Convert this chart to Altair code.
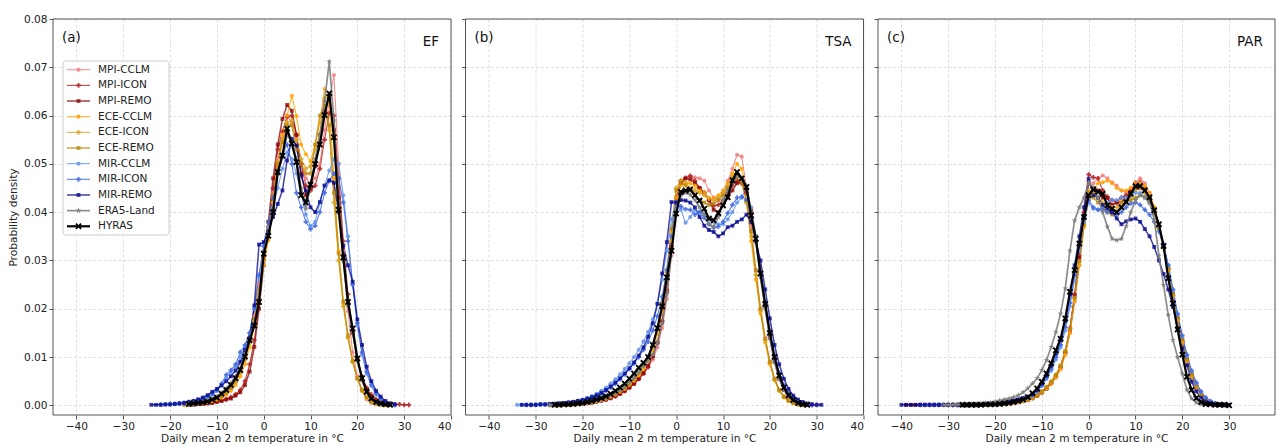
import altair as alt
import pandas as pd

# ---------------- series names & styles ----------------
SERIES = ["MPI-CCLM", "MPI-ICON", "MPI-REMO", "ECE-CCLM", "ECE-ICON", "ECE-REMO",
          "MIR-CCLM", "MIR-ICON", "MIR-REMO", "ERA5-Land", "HYRAS"]
COLORS = ["#f08080", "#b22222", "#8b0000", "#ffa500", "#daa520", "#b8860b",
          "#6495ed", "#4169e1", "#00008b", "#808080", "#000000"]
STAR = "M0,-1L0.24,-0.33L0.95,-0.31L0.38,0.12L0.59,0.81L0,0.4L-0.59,0.81L-0.38,0.12L-0.95,-0.31L-0.24,-0.33Z"
XMARK = "M-1,-0.6L-0.6,-1L0,-0.4L0.6,-1L1,-0.6L0.4,0L1,0.6L0.6,1L0,0.4L-0.6,1L-1,0.6L-0.4,0Z"
SHAPES = ["circle", "cross", "square"] * 3 + [STAR, XMARK]
LINE_W = [1.1, 1.1, 1.5] * 3 + [1.7, 2.2]
OPAC = [0.85, 0.85, 0.75] * 3 + [0.9, 1.0]
SIZES = [17, 22, 15] * 3 + [38, 42]

# ---------------- (a) EF : start temperature and densities (1 degC bins) ----------------
EF_MPI_CCLM_T0 = -17
EF_MPI_CCLM = [0.0002,0.0003,0.0004,0.0005,0.0006,0.0008,0.0011,0.0015,0.0021,0.0029,0.0040,0.0055,0.0075,0.0100,0.0135,0.0185,0.0250,
               0.0310,0.0370,0.0440,0.0510,0.0560,0.0600,0.0585,0.0552,0.0500,0.0470,0.0460,0.0470,0.0500,0.0570,0.0630,0.0684,0.0500,
               0.0320,0.0195,0.0110,0.0060,0.0030,0.0012,0.0005,0.0002,0.0001]
EF_MPI_ICON_T0 = -16
EF_MPI_ICON = [0.0002,0.0002,0.0003,0.0004,0.0005,0.0006,0.0008,0.0010,0.0013,0.0017,0.0023,0.0032,0.0050,0.0085,0.0135,0.0210,
               0.0300,0.0370,0.0450,0.0530,0.0567,0.0597,0.0600,0.0560,0.0500,0.0455,0.0445,0.0455,0.0490,0.0550,0.0605,0.0600,
               0.0470,0.0340,0.0230,0.0150,0.0095,0.0060,0.0036,0.0022,0.0013,0.0008,0.0005,0.0003,0.0002,0.0002,0.0001,0.0001]
EF_MPI_REMO_T0 = -16
EF_MPI_REMO = [0.0002,0.0002,0.0003,0.0003,0.0004,0.0005,0.0007,0.0009,0.0012,0.0014,0.0020,0.0027,0.0042,0.0070,0.0121,0.0200,
               0.0290,0.0380,0.0470,0.0540,0.0593,0.0622,0.0610,0.0560,0.0480,0.0435,0.0450,0.0495,0.0560,0.0610,0.0635,0.0570,
               0.0430,0.0310,0.0215,0.0150,0.0095,0.0058,0.0033,0.0018,0.0009,0.0004,0.0002,0.0001]
EF_ECE_CCLM_T0 = -17
EF_ECE_CCLM = [0.0002,0.0003,0.0003,0.0004,0.0005,0.0007,0.0009,0.0012,0.0016,0.0022,0.0030,0.0042,0.0060,0.0085,0.0120,0.0165,0.0225,
               0.0290,0.0342,0.0420,0.0500,0.0560,0.0600,0.0641,0.0599,0.0540,0.0520,0.0505,0.0540,0.0585,0.0655,0.0625,0.0470,
               0.0320,0.0210,0.0140,0.0090,0.0055,0.0030,0.0015,0.0007,0.0003,0.0002,0.0001]
EF_ECE_ICON_T0 = -17
EF_ECE_ICON = [0.0002,0.0003,0.0004,0.0005,0.0006,0.0008,0.0010,0.0013,0.0018,0.0025,0.0034,0.0048,0.0068,0.0095,0.0130,0.0175,0.0235,
               0.0300,0.0360,0.0430,0.0505,0.0550,0.0586,0.0590,0.0550,0.0510,0.0490,0.0495,0.0530,0.0560,0.0636,0.0570,0.0420,
               0.0300,0.0205,0.0140,0.0090,0.0055,0.0031,0.0016,0.0008,0.0004,0.0002,0.0001]
EF_ECE_REMO_T0 = -17
EF_ECE_REMO = [0.0002,0.0003,0.0004,0.0005,0.0006,0.0008,0.0011,0.0014,0.0019,0.0026,0.0036,0.0050,0.0070,0.0098,0.0135,0.0180,0.0240,
               0.0305,0.0365,0.0435,0.0500,0.0545,0.0580,0.0580,0.0530,0.0500,0.0480,0.0480,0.0540,0.0600,0.0620,0.0580,0.0440,
               0.0315,0.0215,0.0145,0.0092,0.0056,0.0032,0.0017,0.0008,0.0004,0.0002,0.0001]
EF_MIR_CCLM_T0 = -20
EF_MIR_CCLM = [0.0002,0.0003,0.0003,0.0004,0.0005,0.0007,0.0009,0.0012,0.0016,0.0022,0.0030,0.0042,0.0055,0.0068,0.0080,0.0100,0.0120,0.0150,0.0200,0.0265,
               0.0330,0.0370,0.0410,0.0450,0.0490,0.0524,0.0510,0.0480,0.0440,0.0395,0.0372,0.0380,0.0420,0.0455,0.0486,0.0510,0.0500,
               0.0435,0.0350,0.0250,0.0165,0.0105,0.0065,0.0040,0.0023,0.0013,0.0007,0.0003,0.0001]
EF_MIR_ICON_T0 = -22
EF_MIR_ICON = [0.0002,0.0002,0.0003,0.0003,0.0004,0.0005,0.0007,0.0009,0.0012,0.0015,0.0019,0.0024,0.0032,0.0045,0.0063,0.0073,0.0085,0.0110,0.0125,0.0150,0.0200,0.0270,
               0.0330,0.0380,0.0430,0.0480,0.0520,0.0540,0.0500,0.0440,0.0410,0.0380,0.0365,0.0372,0.0400,0.0440,0.0465,0.0480,0.0470,
               0.0420,0.0340,0.0250,0.0170,0.0110,0.0070,0.0043,0.0025,0.0014,0.0007,0.0003,0.0001]
EF_MIR_REMO_T0 = -24
EF_MIR_REMO = [0.0001,0.0001,0.0001,0.0002,0.0002,0.0003,0.0004,0.0005,0.0007,0.0009,0.0012,0.0016,0.0021,0.0028,0.0034,0.0041,0.0050,0.0060,0.0072,0.0090,0.0115,0.0140,0.0207,0.0333,
               0.0338,0.0360,0.0390,0.0417,0.0445,0.0507,0.0552,0.0538,0.0476,0.0445,0.0410,0.0400,0.0421,0.0455,0.0466,0.0461,0.0400,
               0.0331,0.0290,0.0256,0.0178,0.0125,0.0080,0.0050,0.0030,0.0018,0.0009,0.0004,0.0002]
EF_ERA5_T0 = -16
EF_ERA5 = [0.0003,0.0004,0.0005,0.0007,0.0009,0.0013,0.0018,0.0026,0.0035,0.0046,0.0060,0.0078,0.0105,0.0138,0.0170,0.0220,
           0.0320,0.0355,0.0405,0.0480,0.0515,0.0560,0.0545,0.0510,0.0450,0.0407,0.0455,0.0510,0.0560,0.0630,0.0712,0.0590,
           0.0420,0.0300,0.0205,0.0150,0.0092,0.0052,0.0026,0.0013,0.0006,0.0003,0.0002,0.0001]
EF_HYRAS_T0 = -16
EF_HYRAS = [0.0003,0.0004,0.0005,0.0006,0.0008,0.0012,0.0016,0.0024,0.0032,0.0042,0.0056,0.0073,0.0101,0.0135,0.0165,0.0214,
            0.0314,0.0351,0.0400,0.0483,0.0517,0.0573,0.0542,0.0504,0.0435,0.0420,0.0457,0.0500,0.0540,0.0601,0.0646,0.0555,
            0.0405,0.0306,0.0214,0.0159,0.0097,0.0056,0.0028,0.0014,0.0007,0.0004,0.0002,0.0001]

# ---------------- (b) TSA ----------------
TSA_MPI_CCLM_T0 = -27
TSA_MPI_CCLM = [0.0001,0.0001,0.0001,0.0002,0.0002,0.0003,0.0003,0.0004,0.0005,0.0006,0.0008,0.0010,0.0012,0.0015,0.0019,0.0024,0.0030,0.0037,0.0045,0.0055,0.0065,0.0078,0.0095,0.0120,0.0160,0.0220,0.0310,
                0.0420,0.0460,0.0470,0.0475,0.0472,0.0470,0.0465,0.0445,0.0430,0.0425,0.0440,0.0465,0.0490,0.0519,0.0515,0.0450,
                0.0370,0.0280,0.0200,0.0140,0.0090,0.0055,0.0032,0.0018,0.0010,0.0005,0.0003,0.0001]
TSA_MPI_ICON_T0 = -27
TSA_MPI_ICON = [0.0001,0.0001,0.0001,0.0002,0.0002,0.0003,0.0003,0.0004,0.0005,0.0006,0.0008,0.0010,0.0012,0.0015,0.0019,0.0024,0.0030,0.0037,0.0045,0.0055,0.0066,0.0080,0.0100,0.0130,0.0175,0.0240,0.0330,
                0.0430,0.0465,0.0471,0.0475,0.0465,0.0450,0.0440,0.0425,0.0413,0.0415,0.0425,0.0440,0.0455,0.0465,0.0460,0.0440,
                0.0400,0.0340,0.0280,0.0210,0.0150,0.0100,0.0065,0.0040,0.0024,0.0014,0.0008,0.0004,0.0002,0.0001,0.0001]
TSA_MPI_REMO_T0 = -26
TSA_MPI_REMO = [0.0001,0.0001,0.0002,0.0002,0.0003,0.0003,0.0004,0.0005,0.0006,0.0008,0.0010,0.0012,0.0015,0.0019,0.0024,0.0030,0.0037,0.0045,0.0055,0.0067,0.0082,0.0102,0.0130,0.0172,0.0235,0.0325,
                0.0420,0.0460,0.0470,0.0468,0.0460,0.0450,0.0440,0.0425,0.0405,0.0400,0.0415,0.0430,0.0445,0.0460,0.0462,0.0445,
                0.0405,0.0350,0.0280,0.0205,0.0140,0.0090,0.0055,0.0032,0.0018,0.0010,0.0005,0.0002,0.0001]
TSA_ECE_CCLM_T0 = -27
TSA_ECE_CCLM = [0.0001,0.0001,0.0001,0.0002,0.0002,0.0003,0.0004,0.0005,0.0006,0.0007,0.0009,0.0011,0.0014,0.0018,0.0022,0.0028,0.0034,0.0042,0.0051,0.0062,0.0075,0.0092,0.0115,0.0148,0.0195,0.0260,0.0340,
                0.0430,0.0455,0.0462,0.0460,0.0455,0.0445,0.0440,0.0430,0.0428,0.0435,0.0445,0.0460,0.0480,0.0500,0.0490,0.0420,
                0.0340,0.0260,0.0190,0.0130,0.0085,0.0052,0.0030,0.0017,0.0009,0.0005,0.0002,0.0001]
TSA_ECE_ICON_T0 = -27
TSA_ECE_ICON = [0.0001,0.0001,0.0002,0.0002,0.0003,0.0003,0.0004,0.0005,0.0006,0.0008,0.0010,0.0012,0.0015,0.0019,0.0024,0.0030,0.0036,0.0044,0.0054,0.0066,0.0080,0.0098,0.0122,0.0155,0.0205,0.0275,0.0360,
                0.0450,0.0466,0.0460,0.0450,0.0445,0.0440,0.0435,0.0428,0.0425,0.0430,0.0440,0.0455,0.0475,0.0480,0.0465,0.0420,
                0.0350,0.0270,0.0195,0.0135,0.0088,0.0054,0.0031,0.0017,0.0009,0.0005,0.0002,0.0001]
TSA_ECE_REMO_T0 = -27
TSA_ECE_REMO = [0.0001,0.0001,0.0002,0.0002,0.0003,0.0003,0.0004,0.0005,0.0006,0.0008,0.0010,0.0012,0.0015,0.0019,0.0024,0.0030,0.0037,0.0045,0.0055,0.0067,0.0082,0.0100,0.0125,0.0160,0.0210,0.0280,0.0365,
                0.0445,0.0460,0.0455,0.0445,0.0435,0.0425,0.0420,0.0415,0.0418,0.0425,0.0435,0.0450,0.0465,0.0470,0.0460,0.0425,
                0.0360,0.0280,0.0200,0.0138,0.0090,0.0055,0.0032,0.0018,0.0010,0.0005,0.0002,0.0001]
TSA_MIR_CCLM_T0 = -34
TSA_MIR_CCLM = [0.0001,0.0001,0.0001,0.0001,0.0002,0.0002,0.0002,0.0003,0.0003,0.0004,0.0005,0.0006,0.0008,0.0010,0.0012,0.0015,0.0019,0.0024,0.0030,0.0037,0.0045,0.0054,0.0064,0.0075,0.0087,0.0100,0.0115,0.0132,0.0152,0.0178,0.0212,0.0260,0.0320,0.0385,
                0.0420,0.0405,0.0378,0.0390,0.0405,0.0400,0.0395,0.0385,0.0380,0.0375,0.0375,0.0385,0.0400,0.0420,0.0430,0.0452,
                0.0410,0.0350,0.0280,0.0210,0.0150,0.0100,0.0065,0.0040,0.0024,0.0014,0.0008,0.0004,0.0002,0.0001,0.0001]
TSA_MIR_ICON_T0 = -32
TSA_MIR_ICON = [0.0001,0.0001,0.0001,0.0002,0.0002,0.0002,0.0003,0.0003,0.0004,0.0005,0.0006,0.0008,0.0010,0.0012,0.0015,0.0019,0.0024,0.0030,0.0037,0.0045,0.0054,0.0064,0.0075,0.0087,0.0100,0.0115,0.0132,0.0155,0.0185,0.0225,0.0280,0.0350,
                0.0420,0.0412,0.0406,0.0405,0.0395,0.0400,0.0388,0.0375,0.0368,0.0370,0.0380,0.0398,0.0415,0.0430,0.0432,0.0425,
                0.0390,0.0340,0.0280,0.0215,0.0155,0.0105,0.0068,0.0042,0.0025,0.0015,0.0008,0.0004,0.0002,0.0001]
TSA_MIR_REMO_T0 = -33
TSA_MIR_REMO = [0.0001,0.0001,0.0001,0.0001,0.0002,0.0002,0.0003,0.0003,0.0004,0.0005,0.0006,0.0007,0.0009,0.0011,0.0014,0.0017,0.0021,0.0026,0.0032,0.0039,0.0047,0.0056,0.0066,0.0077,0.0089,0.0103,0.0120,0.0142,0.0170,0.0210,0.0273,0.0338,0.0421,
                0.0420,0.0425,0.0424,0.0420,0.0410,0.0390,0.0372,0.0363,0.0359,0.0350,0.0356,0.0369,0.0372,0.0380,0.0385,0.0395,
                0.0380,0.0340,0.0300,0.0240,0.0180,0.0125,0.0085,0.0055,0.0034,0.0020,0.0012,0.0007,0.0004,0.0002,0.0001,0.0001]
TSA_ERA5_T0 = -27
TSA_ERA5 = [0.0001,0.0001,0.0001,0.0002,0.0002,0.0003,0.0004,0.0005,0.0006,0.0008,0.0010,0.0013,0.0016,0.0020,0.0025,0.0031,0.0038,0.0047,0.0057,0.0069,0.0082,0.0092,0.0105,0.0130,0.0170,0.0230,0.0320,
            0.0405,0.0435,0.0440,0.0436,0.0425,0.0410,0.0395,0.0375,0.0370,0.0390,0.0425,0.0445,0.0460,0.0475,0.0470,0.0455,
            0.0400,0.0340,0.0265,0.0200,0.0140,0.0090,0.0055,0.0032,0.0018,0.0010,0.0005,0.0002,0.0001]
TSA_HYRAS_T0 = -26
TSA_HYRAS = [0.0001,0.0001,0.0002,0.0002,0.0003,0.0004,0.0005,0.0007,0.0009,0.0012,0.0015,0.0019,0.0024,0.0030,0.0037,0.0045,0.0055,0.0066,0.0078,0.0088,
             0.0100,0.0125,0.0160,0.0205,0.0265,0.0320,
             0.0397,0.0442,0.0445,0.0447,0.0435,0.0424,0.0407,0.0387,0.0383,0.0398,0.0414,0.0431,0.0466,0.0483,0.0470,0.0452,
             0.0393,0.0345,0.0273,0.0210,0.0150,0.0100,0.0062,0.0037,0.0021,0.0011,0.0005,0.0002,0.0001]

# ---------------- (c) PAR ----------------
PAR_MPI_CCLM_T0 = -30
PAR_MPI_CCLM = [0.0001,0.0001,0.0001,0.0001,0.0001,0.0001,0.0001,0.0002,0.0002,0.0002,0.0003,0.0003,0.0004,0.0005,0.0006,0.0007,0.0009,0.0011,0.0015,0.0020,0.0027,0.0035,0.0045,0.0058,0.0075,0.0105,0.0150,0.0215,0.0290,0.0370,
                0.0430,0.0460,0.0470,0.0476,0.0470,0.0462,0.0455,0.0445,0.0440,0.0450,0.0462,0.0470,0.0460,
                0.0440,0.0410,0.0375,0.0330,0.0280,0.0225,0.0175,0.0130,0.0090,0.0060,0.0038,0.0022,0.0012,0.0006,0.0003,0.0001,0.0001]
PAR_MPI_ICON_T0 = -30
PAR_MPI_ICON = [0.0001,0.0001,0.0001,0.0001,0.0001,0.0001,0.0001,0.0002,0.0002,0.0002,0.0003,0.0003,0.0004,0.0005,0.0006,0.0007,0.0009,0.0011,0.0015,0.0020,0.0027,0.0035,0.0046,0.0060,0.0080,0.0110,0.0160,0.0230,0.0310,0.0400,
                0.0478,0.0472,0.0470,0.0445,0.0432,0.0425,0.0420,0.0430,0.0435,0.0442,0.0460,0.0462,0.0450,
                0.0430,0.0405,0.0372,0.0330,0.0282,0.0228,0.0178,0.0133,0.0093,0.0062,0.0039,0.0023,0.0013,0.0007,0.0003,0.0002,0.0001]
PAR_MPI_REMO_T0 = -39
PAR_MPI_REMO = [0.0001,0.0001,0.0001,0.0001,0.0001,0.0001,0.0001,0.0001,0.0001,0.0001,0.0001,0.0001,0.0001,0.0001,0.0001,0.0001,0.0002,0.0002,0.0002,0.0003,0.0003,
                0.0004,0.0005,0.0006,0.0007,0.0009,0.0011,0.0015,0.0020,0.0027,0.0035,0.0046,0.0060,0.0080,0.0110,0.0155,0.0225,0.0305,0.0390,
                0.0460,0.0450,0.0445,0.0430,0.0429,0.0415,0.0420,0.0420,0.0430,0.0445,0.0450,0.0450,0.0445,
                0.0430,0.0405,0.0372,0.0332,0.0283,0.0230,0.0180,0.0135,0.0095,0.0063,0.0040,0.0024,0.0013,0.0007,0.0003,0.0002,0.0001]
PAR_ECE_CCLM_T0 = -30
PAR_ECE_CCLM = [0.0001,0.0001,0.0001,0.0001,0.0001,0.0001,0.0001,0.0002,0.0002,0.0002,0.0003,0.0003,0.0004,0.0005,0.0006,0.0007,0.0009,0.0011,0.0015,0.0020,0.0027,0.0035,0.0045,0.0058,0.0075,0.0105,0.0150,0.0215,0.0290,0.0370,
                0.0430,0.0445,0.0460,0.0462,0.0465,0.0460,0.0450,0.0445,0.0445,0.0450,0.0460,0.0460,0.0455,
                0.0440,0.0410,0.0376,0.0332,0.0282,0.0228,0.0177,0.0132,0.0092,0.0061,0.0038,0.0022,0.0012,0.0006,0.0003,0.0001,0.0001]
PAR_ECE_ICON_T0 = -30
PAR_ECE_ICON = [0.0001,0.0001,0.0001,0.0001,0.0001,0.0001,0.0001,0.0002,0.0002,0.0002,0.0003,0.0003,0.0004,0.0005,0.0006,0.0008,0.0010,0.0012,0.0016,0.0022,0.0029,0.0038,0.0049,0.0063,0.0082,0.0112,0.0158,0.0222,0.0298,0.0375,
                0.0445,0.0440,0.0430,0.0420,0.0415,0.0410,0.0410,0.0420,0.0425,0.0430,0.0445,0.0450,0.0440,
                0.0425,0.0398,0.0365,0.0325,0.0278,0.0226,0.0176,0.0131,0.0092,0.0061,0.0038,0.0022,0.0012,0.0006,0.0003,0.0001,0.0001]
PAR_ECE_REMO_T0 = -30
PAR_ECE_REMO = [0.0001,0.0001,0.0001,0.0001,0.0001,0.0001,0.0001,0.0002,0.0002,0.0002,0.0003,0.0003,0.0004,0.0005,0.0006,0.0008,0.0010,0.0012,0.0016,0.0022,0.0029,0.0038,0.0049,0.0063,0.0082,0.0112,0.0158,0.0222,0.0298,0.0375,
                0.0440,0.0430,0.0420,0.0410,0.0400,0.0395,0.0400,0.0410,0.0420,0.0425,0.0430,0.0435,0.0430,
                0.0420,0.0398,0.0368,0.0330,0.0284,0.0232,0.0182,0.0136,0.0096,0.0064,0.0040,0.0024,0.0013,0.0007,0.0003,0.0002,0.0001]
PAR_MIR_CCLM_T0 = -35
PAR_MIR_CCLM = [0.0001,0.0001,0.0001,0.0001,0.0001,0.0001,0.0001,0.0001,0.0001,0.0001,0.0002,0.0002,0.0002,0.0003,0.0003,
                0.0004,0.0005,0.0006,0.0007,0.0009,0.0011,0.0013,0.0016,0.0020,0.0028,0.0040,0.0055,0.0072,0.0095,0.0120,0.0155,0.0205,0.0260,0.0320,0.0380,
                0.0420,0.0407,0.0405,0.0410,0.0420,0.0425,0.0425,0.0430,0.0430,0.0435,0.0440,0.0440,0.0430,
                0.0420,0.0400,0.0372,0.0335,0.0290,0.0238,0.0187,0.0142,0.0102,0.0070,0.0045,0.0027,0.0015,0.0008,0.0004,0.0002,0.0001]
PAR_MIR_ICON_T0 = -36
PAR_MIR_ICON = [0.0001,0.0001,0.0001,0.0001,0.0001,0.0001,0.0001,0.0001,0.0001,0.0001,0.0001,0.0002,0.0002,0.0002,0.0003,0.0003,
                0.0004,0.0005,0.0006,0.0008,0.0010,0.0012,0.0014,0.0017,0.0022,0.0030,0.0042,0.0058,0.0076,0.0100,0.0125,0.0162,0.0212,0.0270,0.0330,0.0390,
                0.0425,0.0410,0.0405,0.0405,0.0400,0.0398,0.0395,0.0400,0.0410,0.0418,0.0420,0.0415,0.0405,
                0.0395,0.0380,0.0360,0.0330,0.0290,0.0240,0.0190,0.0145,0.0105,0.0072,0.0047,0.0029,0.0016,0.0009,0.0004,0.0002,0.0001]
PAR_MIR_REMO_T0 = -40
PAR_MIR_REMO = [0.0001,0.0001,0.0001,0.0001,0.0001,0.0001,0.0001,0.0001,0.0001,0.0001,0.0001,0.0001,0.0001,0.0001,0.0001,0.0002,0.0002,0.0002,0.0003,0.0003,
                0.0004,0.0005,0.0006,0.0008,0.0010,0.0012,0.0015,0.0018,0.0023,0.0032,0.0045,0.0062,0.0082,0.0108,0.0135,0.0175,0.0230,0.0290,0.0350,0.0410,
                0.0469,0.0435,0.0430,0.0415,0.0408,0.0400,0.0387,0.0375,0.0381,0.0385,0.0387,0.0380,0.0365,
                0.0350,0.0328,0.0300,0.0272,0.0240,0.0204,0.0159,0.0118,0.0083,0.0049,0.0029,0.0016,0.0008,0.0004,0.0002,0.0001,0.0001,0.0001]
PAR_ERA5_T0 = -31
PAR_ERA5 = [0.0001,0.0001,0.0001,0.0002,0.0002,0.0002,0.0003,0.0003,0.0004,0.0005,0.0006,0.0008,0.0010,0.0012,0.0014,0.0017,0.0021,0.0027,0.0035,0.0045,0.0056,0.0073,0.0094,0.0121,0.0152,0.0190,0.0242,0.0320,0.0383,0.0410,0.0430,
            0.0462,0.0450,0.0430,0.0400,0.0370,0.0345,0.0342,0.0345,0.0371,0.0400,0.0425,0.0435,0.0432,0.0420,0.0385,0.0310,
            0.0249,0.0187,0.0135,0.0100,0.0066,0.0032,0.0014,0.0006,0.0002,0.0001]
PAR_HYRAS_T0 = -27
PAR_HYRAS = [0.0001,0.0001,0.0001,0.0001,0.0001,0.0002,0.0002,0.0002,0.0003,0.0004,0.0005,0.0007,0.0009,0.0012,0.0017,0.0025,0.0035,0.0049,0.0066,0.0087,0.0114,0.0138,0.0180,0.0235,0.0280,0.0335,0.0390,
             0.0435,0.0447,0.0442,0.0438,0.0414,0.0407,0.0400,0.0410,0.0421,0.0438,0.0454,0.0454,0.0445,0.0431,0.0404,0.0375,
             0.0330,0.0263,0.0211,0.0157,0.0105,0.0059,0.0032,0.0015,0.0007,0.0003,0.0002,0.0001,0.0001,0.0001,0.0000]

PANELS = [
    ("(a)", "EF", [(EF_MPI_CCLM_T0, EF_MPI_CCLM), (EF_MPI_ICON_T0, EF_MPI_ICON), (EF_MPI_REMO_T0, EF_MPI_REMO),
                   (EF_ECE_CCLM_T0, EF_ECE_CCLM), (EF_ECE_ICON_T0, EF_ECE_ICON), (EF_ECE_REMO_T0, EF_ECE_REMO),
                   (EF_MIR_CCLM_T0, EF_MIR_CCLM), (EF_MIR_ICON_T0, EF_MIR_ICON), (EF_MIR_REMO_T0, EF_MIR_REMO),
                   (EF_ERA5_T0, EF_ERA5), (EF_HYRAS_T0, EF_HYRAS)]),
    ("(b)", "TSA", [(TSA_MPI_CCLM_T0, TSA_MPI_CCLM), (TSA_MPI_ICON_T0, TSA_MPI_ICON), (TSA_MPI_REMO_T0, TSA_MPI_REMO),
                    (TSA_ECE_CCLM_T0, TSA_ECE_CCLM), (TSA_ECE_ICON_T0, TSA_ECE_ICON), (TSA_ECE_REMO_T0, TSA_ECE_REMO),
                    (TSA_MIR_CCLM_T0, TSA_MIR_CCLM), (TSA_MIR_ICON_T0, TSA_MIR_ICON), (TSA_MIR_REMO_T0, TSA_MIR_REMO),
                    (TSA_ERA5_T0, TSA_ERA5), (TSA_HYRAS_T0, TSA_HYRAS)]),
    ("(c)", "PAR", [(PAR_MPI_CCLM_T0, PAR_MPI_CCLM), (PAR_MPI_ICON_T0, PAR_MPI_ICON), (PAR_MPI_REMO_T0, PAR_MPI_REMO),
                    (PAR_ECE_CCLM_T0, PAR_ECE_CCLM), (PAR_ECE_ICON_T0, PAR_ECE_ICON), (PAR_ECE_REMO_T0, PAR_ECE_REMO),
                    (PAR_MIR_CCLM_T0, PAR_MIR_CCLM), (PAR_MIR_ICON_T0, PAR_MIR_ICON), (PAR_MIR_REMO_T0, PAR_MIR_REMO),
                    (PAR_ERA5_T0, PAR_ERA5), (PAR_HYRAS_T0, PAR_HYRAS)]),
]

Y_TICKS = [0.0, 0.01, 0.02, 0.03, 0.04, 0.05, 0.06, 0.07, 0.08]
FONT = "DejaVu Sans"
H = 396


def frame(series_list):
    recs = []
    for k, (t0, vals) in enumerate(series_list):
        for i, v in enumerate(vals):
            recs.append({"T": t0 + i, "val": v, "series": SERIES[k], "k": k,
                         "color": COLORS[k], "shape": SHAPES[k], "lw": LINE_W[k],
                         "op": OPAC[k], "size": SIZES[k]})
    return pd.DataFrame(recs)


def make_panel(idx, letter, region, series_list, width, xmax, xticks):
    df = frame(series_list)
    X = alt.X("T:Q", scale=alt.Scale(domain=[-45, xmax], nice=False, zero=False),
              axis=alt.Axis(values=xticks, title="Daily mean 2 m temperature in °C", format="d"))
    if idx == 0:
        yaxis = alt.Axis(values=Y_TICKS, format=".2f", title="Probability density")
    else:
        yaxis = alt.Axis(values=Y_TICKS, labels=False, title=None)
    Y = alt.Y("val:Q", scale=alt.Scale(domain=[-0.002, 0.08], nice=False, zero=False), axis=yaxis)

    layers = []
    for part in [df[df.k <= 8], df[df.k == 9], df[df.k == 10]]:
        base = alt.Chart(part)
        layers.append(base.mark_line().encode(
            x=X, y=Y, detail="series:N",
            color=alt.Color("color:N", scale=None),
            strokeWidth=alt.StrokeWidth("lw:Q", scale=None),
            opacity=alt.Opacity("op:Q", scale=None)))
        layers.append(base.mark_point(filled=True, strokeWidth=0).encode(
            x=X, y=Y,
            color=alt.Color("color:N", scale=None),
            shape=alt.Shape("shape:N", scale=None),
            size=alt.Size("size:Q", scale=None),
            opacity=alt.Opacity("op:Q", scale=None)))
    main = alt.layer(*layers)

    one = pd.DataFrame({"a": [letter], "b": [region]})
    t_left = alt.Chart(one).mark_text(align="left", baseline="alphabetic", font=FONT, fontSize=13.5,
                                      color="#111").encode(text="a:N", x=alt.value(9), y=alt.value(23))
    t_right = alt.Chart(one).mark_text(align="right", baseline="alphabetic", font=FONT, fontSize=13.5,
                                       color="#111").encode(text="b:N", x=alt.value(width - 12), y=alt.value(27))
    border = alt.Chart(one).mark_rect(fill="white", fillOpacity=0, stroke="#555555", strokeWidth=1).encode(
        x=alt.value(0), x2=alt.value(width), y=alt.value(0), y2=alt.value(H))
    parts = [main]
    if idx == 0:
        leg = pd.DataFrame({"idx": list(range(11)), "name": SERIES, "color": COLORS, "shape": SHAPES,
                            "lw": LINE_W, "op": OPAC, "size": SIZES})
        LY = alt.Y("idx:Q", scale=alt.Scale(domain=[0, 10], range=[50.7, 207.3]), axis=None)
        box = alt.Chart(pd.DataFrame({"b": [0]})).mark_rect(
            fill="white", fillOpacity=0.85, stroke="#cccccc", strokeWidth=1, cornerRadius=3).encode(
            x=alt.value(10), x2=alt.value(116), y=alt.value(42), y2=alt.value(216))
        lb = alt.Chart(leg)
        rules = lb.mark_rule().encode(
            x=alt.value(14), x2=alt.value(37), y=LY,
            color=alt.Color("color:N", scale=None),
            strokeWidth=alt.StrokeWidth("lw:Q", scale=None),
            opacity=alt.Opacity("op:Q", scale=None))
        pts = lb.mark_point(filled=True, strokeWidth=0).encode(
            x=alt.value(25.5), y=LY,
            color=alt.Color("color:N", scale=None),
            shape=alt.Shape("shape:N", scale=None),
            size=alt.Size("size:Q", scale=None),
            opacity=alt.Opacity("op:Q", scale=None))
        texts = lb.mark_text(align="left", baseline="middle", font=FONT, fontSize=10.5, color="#222").encode(
            x=alt.value(45), y=LY, text="name:N")
        parts.append(alt.layer(box, rules, pts, texts))
    parts += [t_left, t_right, border]
    return alt.layer(*parts).resolve_scale(y="independent").properties(width=width, height=H)


TICKS_FULL = list(range(-40, 41, 10))
TICKS_C = list(range(-40, 31, 10))
pa = make_panel(0, *PANELS[0], 398, 40, TICKS_FULL)
pb = make_panel(1, *PANELS[1], 398, 40, TICKS_FULL)
pc = make_panel(2, *PANELS[2], 397, 39.8, TICKS_C)

chart = alt.hconcat(pa, pb, pc, spacing=14.5, bounds="flush").properties(
    padding={"left": 8, "top": 14, "right": 0, "bottom": 0}
).configure(font=FONT).configure_axis(
    labelFont=FONT, titleFont=FONT, labelFontSize=10.6, titleFontSize=10.6,
    labelColor="#222", titleColor="#222", titleFontWeight="normal",
    domain=False, tickColor="#555", tickSize=4, tickWidth=1, labelPadding=2,
    gridColor="#d6d6d6", gridDash=[3, 2], gridWidth=0.8
).configure_axisX(titlePadding=2).configure_axisY(titlePadding=5).configure_view(
    strokeOpacity=0
)

chart.save("out.html", embed_options={"renderer": "svg", "actions": False})
